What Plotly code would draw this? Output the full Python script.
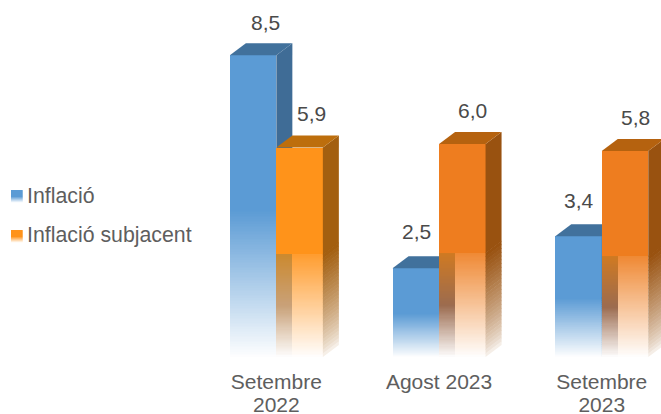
import plotly.graph_objects as go

categories = ["Setembre", "Agost 2023", "Setembre"]
years = ["2022", "", "2023"]
inflacio = [8.5, 2.5, 3.4]
subjacent = [5.9, 6.0, 5.8]
labels_inflacio = ["8,5", "2,5", "3,4"]
labels_subjacent = ["5,9", "6,0", "5,8"]

W, H = 661, 414
L, B = 195, 57
PX_X, PX_Y = 162.7, 35.5
BAR_W = 46.5 / PX_X
DX, DY = 16 / PX_X, 12 / PX_Y
N = 28
NF = 90
FADE = 0.49
FONT = "Liberation Sans, Arial, sans-serif"
TEXT = "#4A4A4A"
LEG_TEXT = "#5E5E5E"
FS = 21

front_b = ["#5B9BD5"] * 3
side_b = ["#3F6C96"] * 3
top_b = ["#41719C"] * 3
front_o = ["#FF931A", "#EE7D1F", "#EE7D1F"]
side_o = ["#A35F10", "#995210", "#995210"]
top_o = ["#BD6E0C", "#B5620F", "#B5620F"]
band_top = ["#CC8A30", "#D07A22", "#D07A22"]
band_mid = ["#C9A27A", "#9C6C50", "#9C6C50"]
lab_off_b = [(12, 33), (1, 37), (0, 36)]
lab_off_o = [(12, 34), (10, 34), (10, 34)]


def rgb(h):
    return tuple(int(h[i:i + 2], 16) for i in (1, 3, 5))


def fade(h, t):
    c = rgb(h)
    return "rgb(%d,%d,%d)" % tuple(255 + (v - 255) * t for v in c)


def band_color(i, t):
    if t >= 0.5:
        s = (t - 0.5) / 0.5
        a, b = rgb(band_top[i]), rgb(band_mid[i])
        return "rgb(%d,%d,%d)" % tuple(q + (p - q) * s for p, q in zip(a, b))
    return fade(band_mid[i], t / 0.5)


def poly(xs, ys, color, ax):
    return go.Scatter(x=xs, y=ys, mode="lines", fill="toself", fillcolor=color,
                      line=dict(width=0), hoverinfo="skip", showlegend=False,
                      xaxis=ax[0], yaxis=ax[1])


def side_slice(xr, hi, lo, color, ax):
    return poly([xr, xr, xr + DX, xr + DX], [lo, hi, hi + DY, lo + DY], color, ax)


def series(name, vals, offset, fronts, sides, tops, use_band, jump, ax):
    out = []
    for i, v in enumerate(vals):
        xl = i + offset - BAR_W / 2
        xr = xl + BAR_W
        start = v * FADE
        out.append(side_slice(xr, v, start - 0.02, sides[i], ax))
        for k in range(N):
            t = 1 - k / N
            hi = start * t
            lo = max(start * (1 - (k + 1) / N) - 0.02, 0)
            out.append(side_slice(xr, hi, lo, fade(sides[i], t ** 0.7), ax))
        out.append(poly([xl, xl + DX, xr + DX, xr], [v, v + DY, v + DY, v], tops[i], ax))
    # front faces: painted from the top down so that slices never show seams
    xs, ys, cs = [], [], []
    for i, v in enumerate(vals):
        xs.append(i + offset)
        ys.append(v)
        cs.append(fronts[i])
        for k in range(NF + 1):
            t = 1 - k / NF
            xs.append(i + offset)
            ys.append(v * FADE * t)
            cs.append(fade(fronts[i], t * jump))
    out.append(go.Bar(x=xs, y=ys, width=BAR_W, marker=dict(color=cs, line=dict(width=0)),
                      name=name, showlegend=False, hoverinfo="skip",
                      xaxis=ax[0], yaxis=ax[1]))
    # darker inner band seen through the fading front
    if use_band:
        xs, ys, cs = [], [], []
        for i, v in enumerate(vals):
            for k in range(NF + 1):
                t = 1 - k / NF
                xs.append(i + offset - BAR_W / 2 + DX / 2)
                ys.append(v * FADE * t)
                cs.append(band_color(i, t))
        out.append(go.Bar(x=xs, y=ys, width=DX, marker=dict(color=cs, line=dict(width=0)),
                          showlegend=False, hoverinfo="skip", xaxis=ax[0], yaxis=ax[1]))
    return out


fig = go.Figure()
off = BAR_W / 2
for tr in series("Inflació", inflacio, -off, front_b, side_b, top_b, False, 1.0, ("x", "y")):
    fig.add_trace(tr)
for tr in series("Inflació subjacent", subjacent, off, front_o, side_o, top_o, True, 0.9, ("x2", "y2")):
    fig.add_trace(tr)

ymax = (H - B) / PX_Y
xr_ = [-0.5, -0.5 + (W - L) / PX_X]
ticktext = [
    (f'<span style="font-size:{FS}px">{c}</span><br><span style="font-size:{FS}px">{y}</span>' if y else
     f'<span style="font-size:{FS}px">{c}</span>')
    for c, y in zip(categories, years)
]

# legend swatches (gradient) in paper coordinates
PW, PH = W - L, H - B
shapes = []
for color, y0 in ((front_b[0], 190), (front_o[0], 230)):
    for k in range(12):
        t = 1.0 if k < 7 else 1 - (k - 6) / 6
        shapes.append(dict(type="rect", xref="paper", yref="paper", layer="above",
                           x0=(11 - L) / PW, x1=(22.7 - L) / PW,
                           y0=1 - (y0 + k + 1.2) / PH, y1=1 - (y0 + k) / PH,
                           fillcolor=fade(color, t), line=dict(width=0)))

fig.update_layout(
    width=W, height=H, margin=dict(l=L, r=0, t=0, b=B),
    paper_bgcolor="white", plot_bgcolor="white",
    barmode="overlay", bargap=0, showlegend=False,
    font=dict(family=FONT, color=TEXT, size=FS),
    xaxis=dict(range=xr_, tickmode="array", tickvals=[0, 1, 2], ticktext=ticktext,
               showgrid=False, zeroline=False, showline=False, automargin=False,
               ticks="outside", ticklen=11, tickcolor="rgba(0,0,0,0)",
               tickangle=0, tickfont=dict(family=FONT, size=17, color=LEG_TEXT)),
    yaxis=dict(range=[0, ymax], visible=False, automargin=False),
    xaxis2=dict(range=xr_, overlaying="x", visible=False, automargin=False),
    yaxis2=dict(range=[0, ymax], overlaying="y", visible=False, automargin=False),
    shapes=shapes,
)

ann = []
for vals, labs, offs, o in ((inflacio, labels_inflacio, lab_off_b, -off),
                            (subjacent, labels_subjacent, lab_off_o, off)):
    for i, v in enumerate(vals):
        ann.append(dict(x=i + o, y=v, xref="x", yref="y", text=labs[i], showarrow=False,
                        xshift=offs[i][0], yshift=offs[i][1],
                        font=dict(family=FONT, size=FS, color=TEXT)))
for text, yc in (("Inflació", 196), ("Inflació subjacent", 235)):
    ann.append(dict(x=(27 - L) / PW, y=1 - yc / PH, xref="paper", yref="paper", xanchor="left",
                    yanchor="middle", xshift=-2, text=text, showarrow=False,
                    font=dict(family=FONT, size=21.3, color=LEG_TEXT)))
fig.update_layout(annotations=ann)

fig.write_html("out.html", config={"displayModeBar": False},
               post_script="document.body.style.margin='0';")
